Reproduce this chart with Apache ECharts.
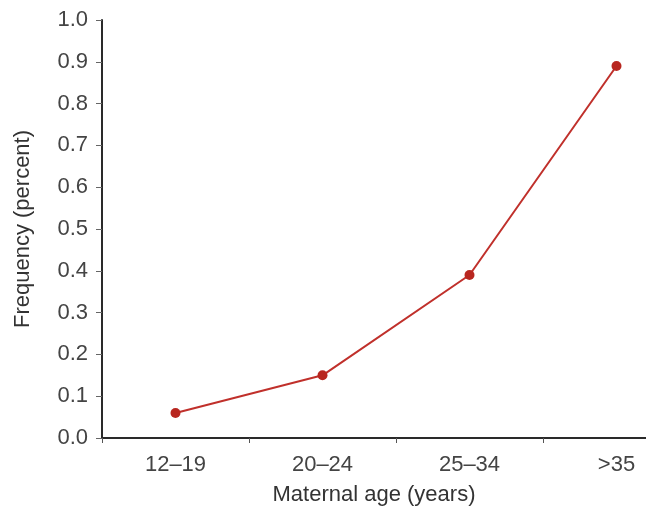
<!DOCTYPE html>
<html>
<head>
<meta charset="utf-8">
<script src="https://cdn.jsdelivr.net/npm/echarts@6/dist/echarts.min.js"></script>
<style>
html,body{margin:0;padding:0;background:#fff;}
#c{width:646px;height:512px;}
</style>
</head>
<body>
<div id="c"></div>
<script>
var categories = ['12\u201319', '20\u201324', '25\u201334', '>35'];
var frequency = [0.06, 0.15, 0.39, 0.89];
var yMin = 0, yMax = 1.0, yStep = 0.1;
var xTitle = 'Maternal age (years)';
var yTitle = 'Frequency (percent)';

var chart = echarts.init(document.getElementById('c'));
var font = 'Liberation Sans, Arial, Helvetica, sans-serif';
chart.setOption({
  animation: false,
  backgroundColor: '#ffffff',
  grid: { left: 102, top: 20, bottom: 74, width: 588, containLabel: false, outerBoundsMode: 'none' },
  xAxis: {
    type: 'category',
    data: categories,
    boundaryGap: true,
    name: xTitle,
    nameLocation: 'middle',
    nameGap: 46,
    nameTextStyle: { fontFamily: font, fontSize: 22, color: '#333', padding: [0, 44, 0, 0] },
    axisLine: { lineStyle: { color: '#2a2a2a', width: 2 } },
    axisTick: { show: true, inside: false, length: 5, lineStyle: { color: '#555', width: 1 } },
    axisLabel: { fontFamily: font, fontSize: 22, color: '#444', margin: 16 },
    splitLine: { show: false }
  },
  yAxis: {
    type: 'value',
    min: yMin, max: yMax, interval: yStep,
    name: yTitle,
    nameLocation: 'middle',
    nameGap: 68,
    nameRotate: 90,
    nameTextStyle: { fontFamily: font, fontSize: 22, color: '#333' },
    axisLine: { show: true, lineStyle: { color: '#2a2a2a', width: 2 } },
    axisTick: { show: true, length: 6, lineStyle: { color: '#666', width: 1 } },
    axisLabel: { fontFamily: font, fontSize: 22, color: '#444', margin: 14,
      formatter: function (v) { return v.toFixed(1); } },
    splitLine: { show: false }
  },
  series: [{
    type: 'line',
    data: frequency,
    symbol: 'circle',
    symbolSize: 10,
    lineStyle: { color: '#c0302b', width: 2 },
    itemStyle: { color: '#b8261f' }
  }]
});
</script>
</body>
</html>
